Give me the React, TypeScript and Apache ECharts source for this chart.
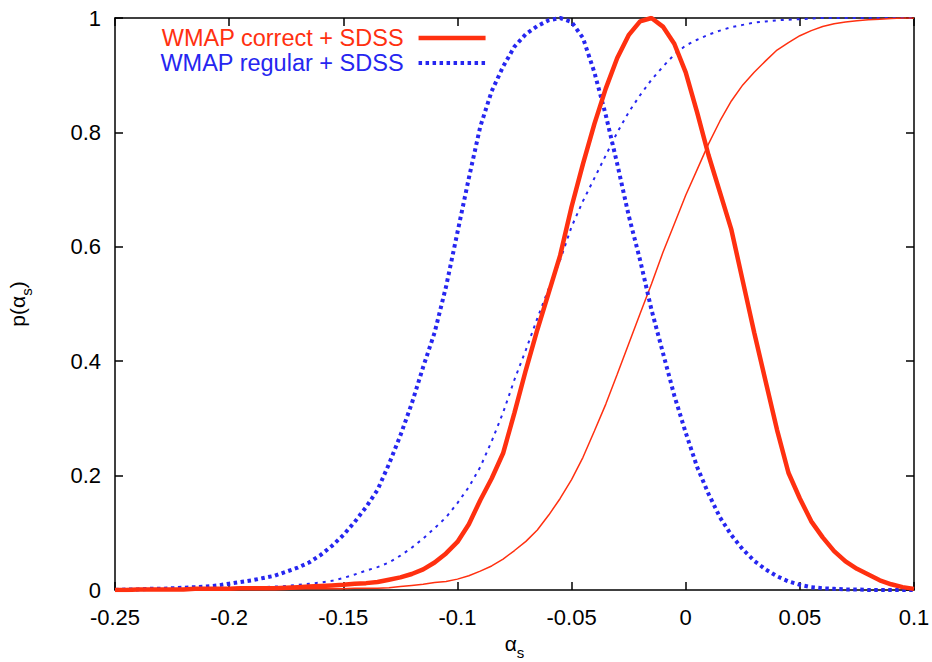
import React, { useEffect, useRef } from "react";
import * as echarts from "echarts";

// sample positions of alpha_s
const alphaS = [
  -0.25, -0.245, -0.24, -0.235, -0.23, -0.225, -0.22, -0.215, -0.21, -0.205, -0.2,
  -0.195, -0.19, -0.185, -0.18, -0.175, -0.17, -0.165, -0.16, -0.155, -0.15,
  -0.145, -0.14, -0.135, -0.13, -0.125, -0.12, -0.115, -0.11, -0.105, -0.1,
  -0.095, -0.09, -0.085, -0.08, -0.075, -0.07, -0.065, -0.06, -0.055, -0.05,
  -0.045, -0.04, -0.035, -0.03, -0.025, -0.02, -0.015, -0.01, -0.005, 0,
  0.005, 0.01, 0.015, 0.02, 0.025, 0.03, 0.035, 0.04, 0.045, 0.05,
  0.055, 0.06, 0.065, 0.07, 0.075, 0.08, 0.085, 0.09, 0.095, 0.1,
];

// WMAP correct + SDSS : posterior (thick) and cumulative (thin)
const correctPdf = [
  0, 0, 0.001, 0.001, 0.001, 0.001, 0.001, 0.002, 0.002, 0.002, 0.002,
  0.003, 0.003, 0.003, 0.003, 0.004, 0.005, 0.006, 0.007, 0.008, 0.009,
  0.011, 0.012, 0.014, 0.018, 0.022, 0.028, 0.036, 0.048, 0.064, 0.084,
  0.115, 0.157, 0.195, 0.239, 0.31, 0.385, 0.455, 0.52, 0.585, 0.67,
  0.745, 0.815, 0.877, 0.93, 0.97, 0.994, 1.0, 0.985, 0.955, 0.905,
  0.835, 0.76, 0.695, 0.63, 0.54, 0.45, 0.365, 0.28, 0.205, 0.16,
  0.12, 0.092, 0.068, 0.05, 0.037, 0.027, 0.017, 0.01, 0.005, 0.002,
];
const correctCdf = [
  0, 0, 0, 0, 0, 0, 0, 0, 0, 0.001, 0.001,
  0.001, 0.001, 0.001, 0.001, 0.001, 0.002, 0.002, 0.002, 0.002, 0.002,
  0.003, 0.003, 0.003, 0.004, 0.006, 0.008, 0.01, 0.013, 0.015, 0.019,
  0.025, 0.033, 0.042, 0.054, 0.069, 0.085, 0.105, 0.131, 0.16, 0.193,
  0.232, 0.278, 0.325, 0.377, 0.43, 0.483, 0.535, 0.59, 0.64, 0.69,
  0.735, 0.78, 0.82, 0.855, 0.883, 0.905, 0.925, 0.944, 0.957, 0.969,
  0.978, 0.985, 0.99, 0.993, 0.995, 0.997, 0.998, 0.999, 1, 1,
];

// WMAP regular + SDSS : posterior (thick dotted) and cumulative (thin dotted)
const regularPdf = [
  0, 0.001, 0.001, 0.002, 0.002, 0.003, 0.004, 0.005, 0.006, 0.008, 0.011,
  0.014, 0.017, 0.021, 0.025, 0.032, 0.039, 0.048, 0.061, 0.077, 0.096,
  0.119, 0.145, 0.175, 0.22, 0.27, 0.326, 0.39, 0.45, 0.53, 0.625,
  0.72, 0.81, 0.872, 0.915, 0.95, 0.972, 0.986, 0.996, 1.0, 0.993,
  0.965, 0.905, 0.83, 0.745, 0.655, 0.577, 0.49, 0.415, 0.34, 0.275,
  0.215, 0.168, 0.127, 0.096, 0.071, 0.051, 0.036, 0.024, 0.015, 0.009,
  0.005, 0.003, 0.002, 0.001, 0.001, 0, 0, 0, 0, 0,
];
const regularCdf = [
  0, 0, 0.001, 0.001, 0.001, 0.001, 0.002, 0.002, 0.002, 0.003, 0.003,
  0.004, 0.004, 0.005, 0.006, 0.007, 0.009, 0.011, 0.013, 0.016, 0.021,
  0.027, 0.034, 0.04, 0.048, 0.06, 0.074, 0.09, 0.108, 0.127, 0.152,
  0.18, 0.215, 0.26, 0.31, 0.368, 0.42, 0.475, 0.527, 0.577, 0.635,
  0.68, 0.72, 0.76, 0.8, 0.835, 0.865, 0.892, 0.915, 0.936, 0.952,
  0.962, 0.971, 0.978, 0.984, 0.988, 0.992, 0.994, 0.996, 0.997, 0.998,
  0.999, 1, 1, 1, 1, 1, 1, 1, 1, 1,
];

const legendNames = ["WMAP correct + SDSS", "WMAP regular + SDSS"];
const xTicks = { min: -0.25, max: 0.1, interval: 0.05 };
const yTicks = { min: 0, max: 1, interval: 0.2 };

const RED = "#ff3010";
const BLUE = "#2626f0";
const FONT = "'Liberation Sans', Arial, Helvetica, sans-serif";

const pairs = (ys: number[]) => alphaS.map((x, i) => [x, ys[i]]);
const fmt = (v: number) => String(parseFloat(v.toFixed(2)));

export default function App() {
  const ref = useRef<HTMLDivElement>(null);
  useEffect(() => {
    if (!ref.current) return;
    const chart = echarts.init(ref.current, null, { renderer: "svg" });
    const axisLine = { show: true, onZero: false, lineStyle: { color: "#000", width: 1.5 } };
    const tick = { show: true, inside: true, length: 8, lineStyle: { color: "#000", width: 1.5 } };
    const richTitle = {
      a: { fontSize: 21, lineHeight: 24, verticalAlign: "top", color: "#000", fontFamily: FONT },
      b: { fontSize: 15, lineHeight: 16, verticalAlign: "top", padding: [12, 0, 0, 0], color: "#000", fontFamily: FONT },
    };
    const thickRed = { color: RED, width: 4.5 };
    const thickBlue = { color: BLUE, width: 4, type: [3.5, 3.5] };
    chart.setOption({
      animation: false,
      backgroundColor: "#fff",
      grid: { left: 115, right: 18, top: 18, bottom: 72, containLabel: false, outerBoundsMode: "none" },
      legend: {
        left: 155,
        top: 21,
        orient: "vertical",
        align: "right",
        itemWidth: 67,
        itemHeight: 22,
        itemGap: 1,
        selectedMode: false,
        itemStyle: { opacity: 0 },
        textStyle: { fontSize: 23.5, lineHeight: 22, fontFamily: FONT, padding: [0, 10, 0, 0] },
        data: [
          { name: legendNames[0], textStyle: { color: RED }, lineStyle: thickRed },
          { name: legendNames[1], textStyle: { color: BLUE }, lineStyle: thickBlue },
        ],
      },
      xAxis: [
        {
          type: "value",
          position: "bottom",
          ...xTicks,
          axisLine,
          axisTick: tick,
          splitLine: { show: false },
          axisLabel: {
            fontSize: 22, color: "#000", fontFamily: FONT, margin: 16,
            showMinLabel: true, showMaxLabel: true, formatter: fmt,
          },
          name: "{a|α}{b|s}",
          nameLocation: "middle",
          nameGap: 32,
          nameTextStyle: { rich: richTitle },
        },
        {
          type: "value",
          position: "top",
          ...xTicks,
          axisLine,
          axisTick: tick,
          splitLine: { show: false },
          axisLabel: { show: false },
        },
      ],
      yAxis: [
        {
          type: "value",
          position: "left",
          ...yTicks,
          axisLine,
          axisTick: tick,
          splitLine: { show: false },
          axisLabel: { fontSize: 22, color: "#000", fontFamily: FONT, margin: 14, formatter: fmt },
          name: "{a|p(α}{b|s}{a|)}",
          nameLocation: "middle",
          nameGap: 84,
          nameRotate: 90,
          nameTextStyle: { rich: richTitle },
        },
        {
          type: "value",
          position: "right",
          ...yTicks,
          axisLine,
          axisTick: tick,
          splitLine: { show: false },
          axisLabel: { show: false },
        },
      ],
      series: [
        {
          name: "cumulative regular",
          type: "line",
          data: pairs(regularCdf),
          symbol: "none",
          lineStyle: { color: BLUE, width: 2, type: [3, 5] },
          itemStyle: { color: BLUE },
        },
        {
          name: "cumulative correct",
          type: "line",
          data: pairs(correctCdf),
          symbol: "none",
          lineStyle: { color: RED, width: 1.5 },
          itemStyle: { color: RED },
        },
        {
          name: legendNames[1],
          type: "line",
          data: pairs(regularPdf),
          symbol: "none",
          lineStyle: thickBlue,
          itemStyle: { color: BLUE },
        },
        {
          name: legendNames[0],
          type: "line",
          data: pairs(correctPdf),
          symbol: "none",
          lineStyle: thickRed,
          itemStyle: { color: RED },
        },
      ],
    });
    return () => chart.dispose();
  }, []);
  return (
    <div
      ref={ref}
      style={{ position: "fixed", left: 0, top: 0, width: 932, height: 662, background: "#fff" }}
    />
  );
}
